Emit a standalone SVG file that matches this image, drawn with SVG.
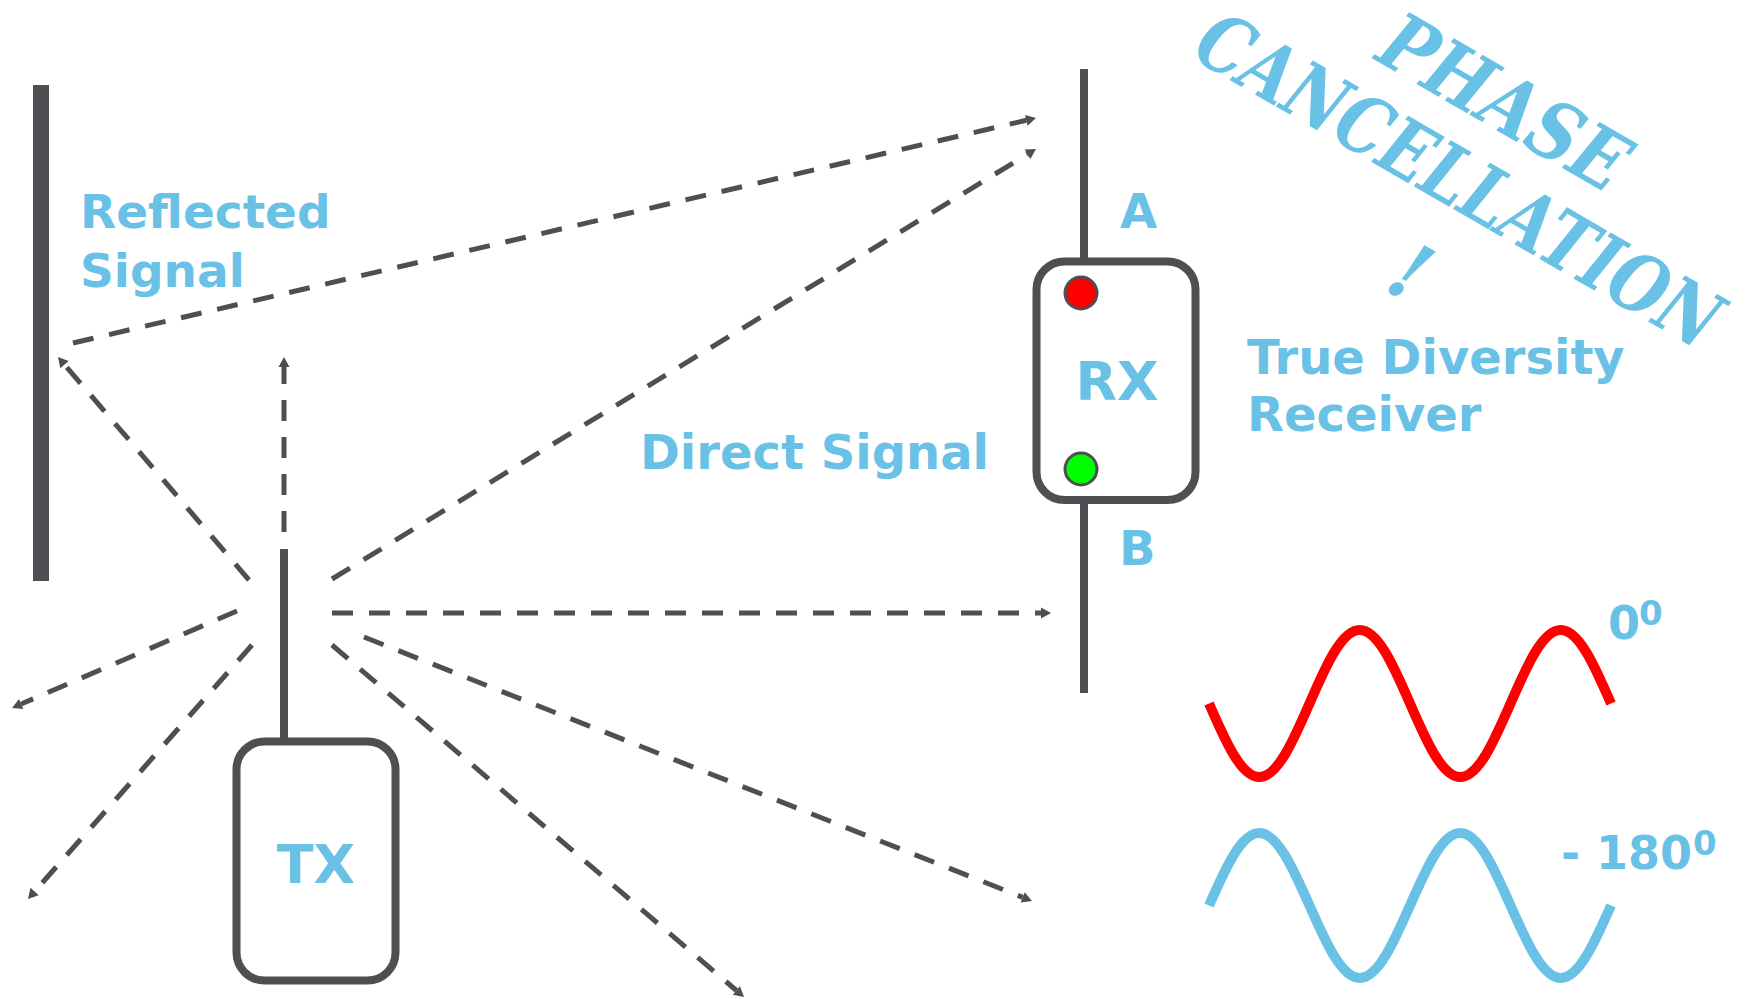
<svg xmlns="http://www.w3.org/2000/svg" width="1750" height="999" viewBox="0 0 1750 999">
<style>
.lbl{font-family:"DejaVu Sans","Verdana",sans-serif;font-weight:bold;fill:#69C1E6;}
.dash{fill:none;stroke:#4E4F53;stroke-width:5;stroke-dasharray:21 16;marker-end:url(#ah);}
.dev{fill:#FFFFFF;stroke:#4E4F53;stroke-width:8;}
.ant{stroke:#4E4F53;stroke-width:8;fill:none;}
.wave{fill:none;stroke-width:10;}
.title{font-family:"DejaVu Serif Condensed","DejaVu Serif",serif;font-weight:bold;font-style:italic;fill:#69C1E6;}
</style>
<defs>
<marker id="ah" markerUnits="userSpaceOnUse" markerWidth="12" markerHeight="12" refX="0" refY="5.5" orient="auto" overflow="visible">
<path d="M0,0 L10,5.5 L0,11 Z" fill="#4E4F53"/>
</marker>
</defs>
<rect width="1750" height="999" fill="#FFFFFF"/>

<g id="wall">
<rect x="33" y="85" width="16" height="496" fill="#4E4F53"/>
</g>

<g id="connectors">
<path class="dash" d="M332,613 L1041,613"/>
<path class="dash" d="M332,579 L1027.5,154.2"/>
<path class="dash" d="M73,343 L1026.3,120.3"/>
<path class="dash" d="M249,580 L64.5,364.6"/>
<path class="dash" d="M284,532 L284,367"/>
<path class="dash" d="M237,611 L21.2,704"/>
<path class="dash" d="M252,645 L34.6,891.5"/>
<path class="dash" d="M364,637 L1022.7,897.3"/>
<path class="dash" d="M332,645 L736.4,990.5"/>
</g>

<g id="tx">
<line class="ant" x1="284" y1="549" x2="284" y2="742"/>
<rect class="dev" x="236.5" y="741.5" width="159" height="239" rx="28"/>
<text class="lbl" x="316" y="883" font-size="54" text-anchor="middle">TX</text>
</g>

<g id="rx">
<line class="ant" x1="1084" y1="69" x2="1084" y2="693"/>
<rect class="dev" x="1036.5" y="261.5" width="159" height="238.5" rx="28"/>
<circle cx="1081" cy="293" r="16" fill="#FF0000" stroke="#4E4F53" stroke-width="3"/>
<circle cx="1081" cy="469" r="16" fill="#00FF00" stroke="#4E4F53" stroke-width="3"/>
<text class="lbl" x="1117" y="400" font-size="54" text-anchor="middle">RX</text>
<text class="lbl" x="1120" y="228" font-size="48">A</text>
<text class="lbl" x="1119" y="565" font-size="48">B</text>
</g>

<g id="labels">
<text class="lbl" x="80" y="228" font-size="47">Reflected</text>
<text class="lbl" x="80" y="287" font-size="47">Signal</text>
<text class="lbl" x="640" y="469" font-size="48">Direct Signal</text>
<text class="lbl" x="1247" y="374" font-size="48">True Diversity</text>
<text class="lbl" x="1247" y="431" font-size="48">Receiver</text>
</g>

<g id="title" transform="translate(1459,180) rotate(30)">
<text class="title" x="1" y="-62" font-size="80" text-anchor="middle" textLength="272" lengthAdjust="spacingAndGlyphs">PHASE</text>
<text class="title" x="0" y="28" font-size="80" text-anchor="middle" textLength="590" lengthAdjust="spacingAndGlyphs">CANCELLATION</text>
<text class="title" x="4" y="132" font-size="80" text-anchor="middle">!</text>
</g>

<g id="waves">
<path class="wave" stroke="#FF0000" d="M1209,703.5 C1225.39,741.15 1241.06,777 1259.25,777 C1277.44,777 1293.11,741.15 1309.5,703.5 C1325.89,665.85 1341.56,630 1359.75,630 C1377.94,630 1393.61,665.85 1410,703.5 C1426.39,741.15 1442.06,777 1460.25,777 C1478.44,777 1494.11,741.15 1510.5,703.5 C1526.89,665.85 1542.56,630 1560.75,630 C1578.94,630 1594.61,665.85 1611,703.5"/>
<path class="wave" stroke="#69C1E6" d="M1209,905.5 C1225.39,868.36 1241.06,833 1259.25,833 C1277.44,833 1293.11,868.36 1309.5,905.5 C1325.89,942.64 1341.56,978 1359.75,978 C1377.94,978 1393.61,942.64 1410,905.5 C1426.39,868.36 1442.06,833 1460.25,833 C1478.44,833 1494.11,868.36 1510.5,905.5 C1526.89,942.64 1542.56,978 1560.75,978 C1578.94,978 1594.61,942.64 1611,905.5"/>
<text class="lbl" x="1608" y="639" font-size="46">0</text>
<text class="lbl" x="1639" y="625" font-size="34">0</text>
<text class="lbl" x="1561" y="869" font-size="46">- 180</text>
<text class="lbl" x="1693" y="855" font-size="34">0</text>
</g>
</svg>
